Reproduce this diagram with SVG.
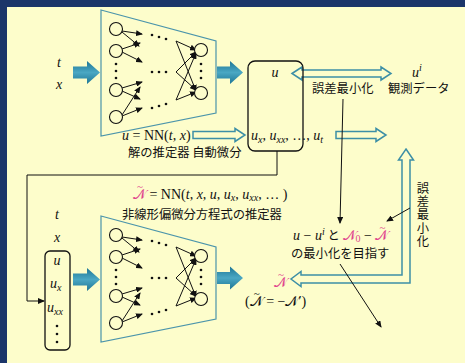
<svg xmlns="http://www.w3.org/2000/svg" xmlns:xlink="http://www.w3.org/1999/xlink" width="465" height="363" viewBox="0 0 465 363">
<style>
.m{font-family:"Liberation Serif","DejaVu Serif",serif;font-size:14px;fill:#111}
.i{font-style:italic}
.sub{font-size:10px;font-style:italic}
.tl{font-size:11px;font-style:normal}
.jp{font-family:"Noto Sans CJK JP","Noto Sans",sans-serif;font-size:12.3px;fill:#111}
.pk{fill:#e0458e}
.ln{fill:none;stroke:#111;stroke-width:1}
.hol{fill:#fdfdcb;stroke:#3d8fa6;stroke-width:1.5}
.blk{fill:url(#bg)}
.trap{fill:none;stroke:#4a94ab;stroke-width:1.2}
.nd{fill:#fdfdcb;stroke:#111;stroke-width:1.1}
.box{fill:none;stroke:#111;stroke-width:1.3}
.vt{writing-mode:vertical-rl;letter-spacing:1px}
</style>
<defs>
<linearGradient id="bg" x1="0" y1="0" x2="0" y2="1">
<stop offset="0" stop-color="#1e7695"/>
<stop offset="0.5" stop-color="#4aa7c3"/>
<stop offset="1" stop-color="#1e7695"/>
</linearGradient>
<marker id="ah" markerWidth="7" markerHeight="6" refX="6" refY="3" orient="auto" markerUnits="userSpaceOnUse">
<path d="M0,0 L7,3 L0,6 Z" fill="#111"/>
</marker>
<g id="nn">
<polygon class="trap" points="101,10 216,41 216,113 101,136"/>
<g class="ln" marker-end="url(#ah)">
<line x1="122" y1="31" x2="142" y2="34"/>
<line x1="122" y1="32" x2="139" y2="46"/>
<line x1="122" y1="49" x2="140" y2="43"/>
<line x1="122" y1="52" x2="142" y2="62"/>
<line x1="122" y1="88" x2="142" y2="82"/>
<line x1="122" y1="91" x2="140" y2="99"/>
<line x1="122" y1="115" x2="140" y2="87"/>
<line x1="122" y1="116" x2="142" y2="108"/>
<line x1="176" y1="41" x2="196" y2="50"/>
<line x1="176" y1="41" x2="196" y2="91"/>
<line x1="176" y1="72" x2="196" y2="52"/>
<line x1="176" y1="72" x2="196" y2="90"/>
<line x1="176" y1="100" x2="196" y2="53"/>
<line x1="176" y1="100" x2="196" y2="92"/>
</g>
<circle class="nd" cx="116" cy="29" r="6.5"/>
<circle class="nd" cx="116" cy="51" r="6.5"/>
<circle class="nd" cx="116" cy="90" r="6.5"/>
<circle class="nd" cx="116" cy="117" r="6.5"/>
<circle class="nd" cx="201" cy="50" r="6.5"/>
<circle class="nd" cx="201" cy="93" r="6.5"/>
<g fill="#111">
<circle cx="116" cy="64" r="1.3"/><circle cx="116" cy="71" r="1.3"/><circle cx="116" cy="78" r="1.3"/>
<circle cx="201" cy="64" r="1.3"/><circle cx="201" cy="71" r="1.3"/><circle cx="201" cy="78" r="1.3"/>
<circle cx="152" cy="35" r="1.3"/><circle cx="159" cy="37" r="1.3"/><circle cx="166" cy="39" r="1.3"/>
<circle cx="152" cy="72" r="1.3"/><circle cx="159" cy="72" r="1.3"/><circle cx="166" cy="72" r="1.3"/>
<circle cx="152" cy="108" r="1.3"/><circle cx="159" cy="106" r="1.3"/><circle cx="166" cy="104" r="1.3"/>
</g>
</g>
</defs>

<rect x="0" y="0" width="465" height="363" fill="#1b3569"/>
<rect x="7" y="7" width="458" height="356" fill="#fdfdcb"/>

<g id="connectors">
<path class="blk" d="M73,66.5 H87 V61 L100,72.5 L87,84 V78.5 H73 Z"/>
<path class="blk" d="M217,66.5 H230 V61 L243,72.5 L230,84 V78.5 H217 Z"/>
<path class="blk" d="M73,273.5 H87 V268 L100,279.5 L87,291 V285.5 H73 Z"/>
<path class="blk" d="M217,272 H230 V266.5 L243,278 L230,289.5 V284 H217 Z"/>
<polygon class="hol" points="292,73.5 302,67 302,70 381,70 381,67 391,73.5 381,80 381,77 302,77 302,80"/>
<polygon class="hol" points="193,131.5 235,131.5 235,128.5 245,135 235,141.5 235,138.5 193,138.5"/>
<polygon class="hol" points="336,131.5 376,131.5 376,128.5 386,135 376,141.5 376,138.5 336,138.5"/>
<polygon class="hol" points="406,149 413.5,160 410,160 410,283 301,283 301,286.5 291,279 301,271.5 301,275 402,275 402,160 398.5,160"/>
<polyline class="ln" points="277,151 277,175 27,175 27,301 44,301" marker-end="url(#ah)"/>
<line class="ln" x1="343" y1="99" x2="340" y2="223" marker-end="url(#ah)"/>
<line class="ln" x1="410" y1="208" x2="387" y2="221" marker-end="url(#ah)"/>
<line class="ln" x1="340" y1="264" x2="381" y2="327" marker-end="url(#ah)"/>
</g>

<g id="nn-solution"><use xlink:href="#nn" href="#nn"/></g>
<g id="nn-pde"><use xlink:href="#nn" href="#nn" transform="translate(0,206)"/></g>

<g id="input-top">
<text class="m i" x="59" y="67" text-anchor="middle">t</text>
<text class="m i" x="59" y="89" text-anchor="middle">x</text>
</g>

<g id="label-solution">
<text class="m" x="122" y="140"><tspan class="i">u</tspan> = NN(<tspan class="i">t</tspan>, <tspan class="i">x</tspan>)</text>
<text class="jp" x="128" y="157">解の推定器 自動微分</text>
</g>

<g id="box-u">
<rect class="box" x="248" y="61" width="55" height="90" rx="7"/>
<text class="m i" x="275" y="77" text-anchor="middle">u</text>
<text class="m" x="251" y="140"><tspan class="i">u</tspan><tspan class="sub" dy="3">x</tspan><tspan dy="-3">, </tspan><tspan class="i">u</tspan><tspan class="sub" dy="3">xx</tspan><tspan dy="-3">, …, </tspan><tspan class="i">u</tspan><tspan class="sub" dy="3">t</tspan></text>
</g>

<g id="obs">
<text class="m" x="412" y="77"><tspan class="i">u</tspan><tspan class="sub" dy="-6">i</tspan></text>
<text class="jp" x="388" y="93">観測データ</text>
</g>
<text class="jp" x="312" y="93">誤差最小化</text>

<g id="label-pde">
<text class="m" x="133" y="199"><tspan class="pk">𝒩</tspan><tspan class="pk tl" dx="-9" dy="-9">~</tspan><tspan dx="3" dy="9"> = NN(</tspan><tspan class="i">t</tspan>, <tspan class="i">x</tspan>, <tspan class="i">u</tspan>, <tspan class="i">u</tspan><tspan class="sub" dy="2">x</tspan><tspan dy="-2">, </tspan><tspan class="i">u</tspan><tspan class="sub" dy="2">xx</tspan><tspan dy="-2">, … )</tspan></text>
<text class="jp" x="122" y="219" font-size="12.5">非線形偏微分方程式の推定器</text>
</g>

<g id="input-bottom">
<text class="m i" x="57" y="219" text-anchor="middle">t</text>
<text class="m i" x="57" y="242" text-anchor="middle">x</text>
<rect class="box" x="45" y="251" width="25" height="99" rx="5"/>
<text class="m i" x="57" y="265" text-anchor="middle">u</text>
<text class="m" x="50" y="288"><tspan class="i">u</tspan><tspan class="sub" dy="3">x</tspan></text>
<text class="m" x="47" y="312"><tspan class="i">u</tspan><tspan class="sub" dy="3">xx</tspan></text>
<g fill="#111"><circle cx="57" cy="326" r="1.3"/><circle cx="57" cy="334" r="1.3"/><circle cx="57" cy="342" r="1.3"/></g>
</g>

<g id="goal">
<text class="m" x="293" y="240"><tspan class="i">u</tspan> − <tspan class="i">u</tspan><tspan class="sub" dy="-5">i</tspan><tspan dy="5" class="jp"> と </tspan><tspan class="pk">𝒩</tspan><tspan class="pk" font-size="10" dy="2">0</tspan><tspan dy="-2"> − </tspan><tspan class="pk">𝒩</tspan><tspan class="pk tl" dx="-9" dy="-9">~</tspan></text>
<text class="jp" x="291" y="258">の最小化を目指す</text>
</g>

<g id="output-n">
<text class="m pk" x="274" y="287"><tspan>𝒩</tspan><tspan class="tl" dx="-9" dy="-9">~</tspan></text>
<text class="m" x="245" y="306">(<tspan>𝒩</tspan><tspan class="tl" dx="-9" dy="-9">~</tspan><tspan dx="3" dy="9"> = −𝒩′)</tspan></text>
</g>

<g id="vertical-label">
<text class="jp vt" x="423" y="182">誤差最小化</text>
</g>
</svg>
